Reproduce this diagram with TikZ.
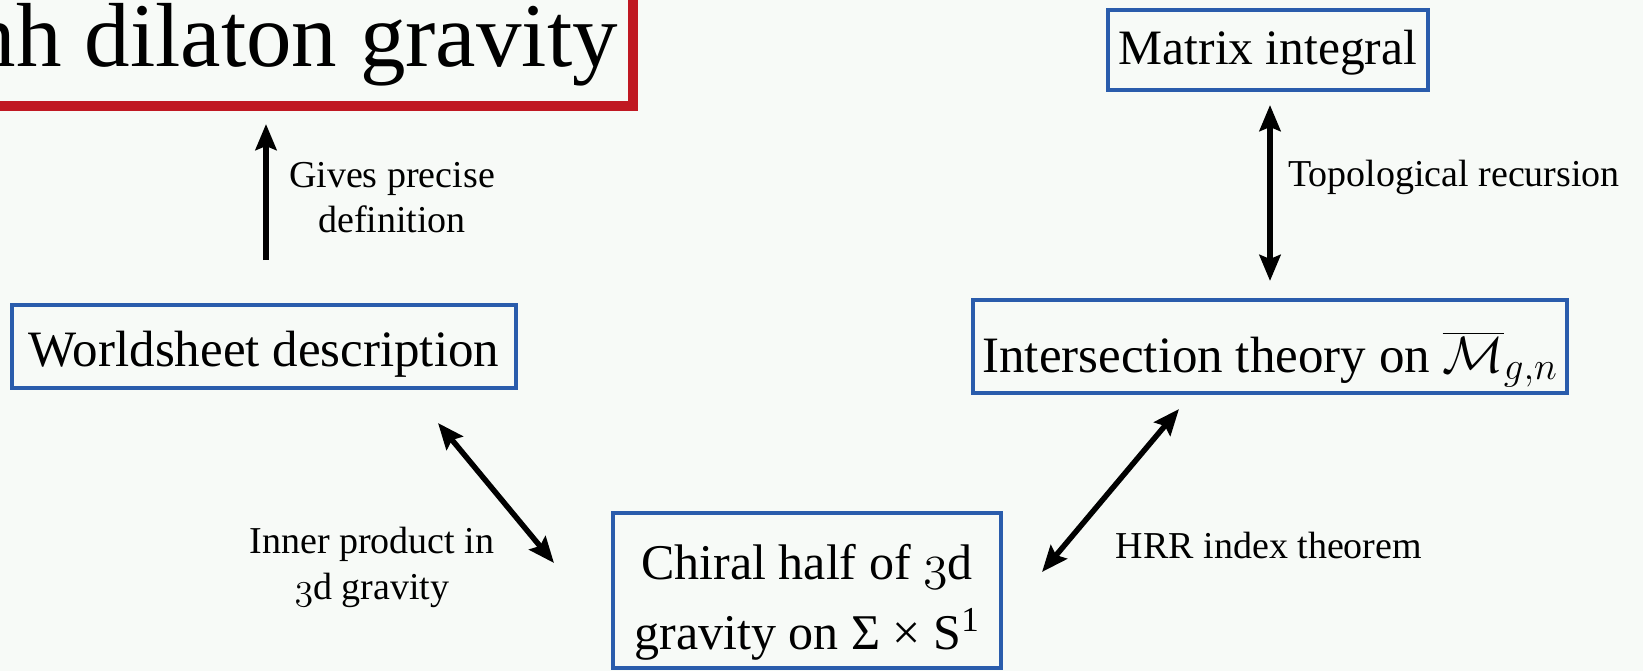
\RequirePackage{fix-cm}
\documentclass[tikz,border=0pt]{standalone}
\usepackage{amsmath}
\usepackage{fontspec}
\setmainfont{Liberation Serif}
\DeclareMathSizes{51}{51}{39}{30}
\usetikzlibrary{arrows.meta,calc}
\definecolor{bg}{RGB}{247,250,247}
\definecolor{tred}{RGB}{192,24,34}
\definecolor{tblue}{RGB}{42,92,172}
\newcommand{\othree}{{\usefont{OML}{cmm}{m}{it}3}}
\begin{document}
\begin{tikzpicture}[x=1pt,y=-1pt,
  box/.style={draw=tblue, line width=4pt, inner sep=0pt, align=center},
  small/.style={align=center, inner sep=0pt},
  arr/.style={line width=5.5pt, -{Stealth[length=26pt,width=21pt,inset=4pt]}},
  darr/.style={line width=5.5pt, {Stealth[length=26pt,width=21pt,inset=4pt]}-{Stealth[length=26pt,width=21pt,inset=4pt]}}]
\fill[bg] (0,0) rectangle (1643,671);
\useasboundingbox (0,0) rectangle (1643,671);
\clip (0,0) rectangle (1643,671);
% title box (partly outside the picture)
\node[draw=tred, line width=10pt, minimum width=713pt, minimum height=186pt, inner sep=0pt] (title) at (276.5,13) {};
\node[anchor=base east, inner sep=0pt, font=\fontsize{91}{100}\selectfont] (titletext) at (618,67) {sinh dilaton gravity};
% boxes
\node[box, font=\fontsize{51}{60}\selectfont, text height=42pt, text depth=3pt,
      minimum width=504pt, minimum height=83pt] (ws) at (264,346.5) {Worldsheet description};
\node[box, font=\fontsize{49.5}{58}\selectfont, text height=35pt, text depth=5pt,
      minimum width=320pt, minimum height=80pt] (mat) at (1268,50) {Matrix integral};
\node[box, font=\fontsize{51}{60}\selectfont, text height=56pt, text depth=5pt,
      minimum width=594pt, minimum height=93pt] (inter) at (1270,346.5) {Intersection theory on $\overline{\mathcal{M}}_{g,n}$};
\node[box, minimum width=388pt, minimum height=155pt] (chiral) at (807,590.5) {};
\node[font=\fontsize{50}{70}\selectfont, align=center, inner sep=0pt] (chiraltext) at (807,602)
      {Chiral half of \othree d\\ gravity on Σ × S\textsuperscript{1}};
% connectors
\coordinate (gtop) at (ws.north |- title.south);
\coordinate (itop) at (mat.south |- inter.north);
\draw[arr] ([shift={(2,-43)}]ws.north) -- ([shift={(2,13)}]gtop);
\draw[darr] ([shift={(2,13)}]mat.south) -- ([shift={(2,-17)}]itop);
\draw[darr] ([shift={(-91,14)}]inter.south) -- ([shift={(39,61)}]chiral.north east);
\draw[darr] ([shift={(-80,33)}]ws.south east) -- ([shift={(-57,-27.5)}]chiral.west);
% labels
\node[small, font=\fontsize{38}{45}\selectfont] (lgive) at (392,198) {Gives precise\\definition};
\node[small, font=\fontsize{38}{45}\selectfont] (ltop) at (1454,177) {Topological recursion};
\node[small, font=\fontsize{38}{45}\selectfont] (lhrr) at (1269,545) {HRR index theorem};
\node[small, font=\fontsize{38}{46}\selectfont] (linner) at (372,567) {Inner product in\\\othree d gravity};
\end{tikzpicture}
\end{document}
